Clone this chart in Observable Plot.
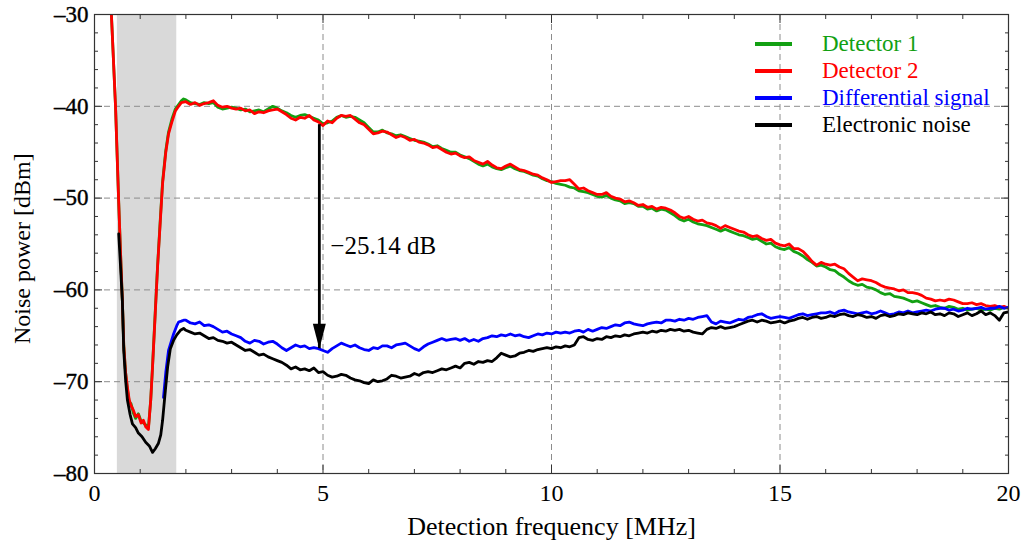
<!DOCTYPE html>
<html><head><meta charset="utf-8">
<script src="https://cdn.jsdelivr.net/npm/d3@7"></script>
<script src="https://cdn.jsdelivr.net/npm/@observablehq/plot@0.6"></script>
<style>
body{margin:0;background:#fff;}
#wrap{position:relative;width:1027px;height:547px;font-family:"Liberation Serif","DejaVu Serif",serif;}
#legend{position:absolute;left:755px;top:30px;}
.item{display:flex;align-items:center;height:27px;}
.sw{width:37px;height:4px;margin-right:30px;}
.lab{font-size:23px;line-height:23px;}
</style></head><body><div id="wrap"></div>
<script>
const seriesNames = ["Detector 1", "Detector 2", "Differential signal", "Electronic noise"];
const seriesColors = ["#12a012", "#ff0000", "#0000ff", "#000000"];

const xMajor = [0, 5, 10, 15, 20];
const xMinor = [1,2,3,4,6,7,8,9,11,12,13,14,16,17,18,19];
const yMajor = [-80, -70, -60, -50, -40, -30];
const yMinor = [-78,-76,-74,-72,-68,-66,-64,-62,-58,-56,-54,-52,-48,-46,-44,-42,-38,-36,-34,-32];
const gridXVals = [5, 10, 15];
const gridYVals = [-70, -60, -50, -40];

const bandLo = 0.5, bandHi = 1.8;

const freqMain = [
2.0,2.1,2.2,2.3,2.4,2.5,2.6,2.7,2.8,2.9,
3.0,3.1,3.2,3.3,3.4,3.5,3.6,3.7,3.8,3.9,
4.0,4.1,4.2,4.3,4.4,4.5,4.6,4.7,4.8,4.9,
5.0,5.1,5.2,5.3,5.4,5.5,5.6,5.7,5.8,5.9,
6.0,6.1,6.2,6.3,6.4,6.5,6.6,6.7,6.8,6.9,
7.0,7.1,7.2,7.3,7.4,7.5,7.6,7.7,7.8,7.9,
8.0,8.1,8.2,8.3,8.4,8.5,8.6,8.7,8.8,8.9,
9.0,9.1,9.2,9.3,9.4,9.5,9.6,9.7,9.8,9.9,
10.0,10.1,10.2,10.3,10.4,10.5,10.6,10.7,10.8,10.9,
11.0,11.1,11.2,11.3,11.4,11.5,11.6,11.7,11.8,11.9,
12.0,12.1,12.2,12.3,12.4,12.5,12.6,12.7,12.8,12.9,
13.0,13.1,13.2,13.3,13.4,13.5,13.6,13.7,13.8,13.9,
14.0,14.1,14.2,14.3,14.4,14.5,14.6,14.7,14.8,14.9,
15.0,15.1,15.2,15.3,15.4,15.5,15.6,15.7,15.8,15.9,
16.0,16.1,16.2,16.3,16.4,16.5,16.6,16.7,16.8,16.9,
17.0,17.1,17.2,17.3,17.4,17.5,17.6,17.7,17.8,17.9,
18.0,18.1,18.2,18.3,18.4,18.5,18.6,18.7,18.8,18.9,
19.0,19.1,19.2,19.3,19.4,19.5,19.6,19.7,19.8,19.9,
20.0];

// Detector 1 (green)
const det1LowFreq = [0.37,0.46,0.53,0.57,0.61,0.64,0.68,0.72,0.76,0.80,0.85,0.90,0.96,1.02,1.07,1.12,1.18,1.23,1.27,1.33,1.38,1.44,1.49,1.56,1.62,1.70,1.77,1.84,1.90,1.95];
const det1LowPow  = [-30,-40,-50.5,-56,-61.2,-66,-69,-70.8,-72.2,-72.4,-73.4,-74.0,-73.5,-74.3,-74.5,-74.7,-75.0,-72,-68.3,-62.3,-57.4,-52.3,-48.2,-44.8,-42.8,-41.3,-40.3,-39.8,-39.4,-39.2];
const det1Main = [
-39.3,-39.6,-39.7,-39.8,-39.6,-39.7,-39.6,-40.1,-40.3,-40.2,
-40.1,-40.2,-40.4,-40.3,-40.6,-40.5,-40.4,-40.6,-40.3,-40.0,
-40.2,-40.5,-40.7,-41.0,-41.2,-41.0,-40.9,-41.1,-41.3,-41.5,
-41.9,-41.8,-41.6,-41.2,-41.0,-41.2,-41.1,-41.2,-41.5,-41.8,
-42.3,-42.8,-42.8,-42.6,-42.9,-43.0,-43.2,-43.1,-43.3,-43.5,
-43.7,-43.8,-43.9,-44.1,-44.4,-44.3,-44.6,-44.8,-45.0,-45.0,
-45.3,-45.5,-45.7,-46.0,-46.3,-46.5,-46.3,-46.6,-46.8,-46.9,
-46.7,-46.5,-46.8,-47.0,-47.1,-47.3,-47.5,-47.6,-47.9,-48.1,
-48.2,-48.4,-48.5,-48.6,-48.8,-48.9,-49.2,-49.3,-49.4,-49.6,
-49.8,-49.9,-49.7,-50.0,-50.2,-50.3,-50.6,-50.5,-50.6,-50.9,
-50.9,-51.2,-51.1,-51.4,-51.2,-51.3,-51.6,-51.9,-52.3,-52.5,
-52.3,-52.6,-52.8,-52.9,-53.0,-53.2,-53.4,-53.6,-53.4,-53.6,
-53.8,-54.0,-54.1,-54.3,-54.5,-54.4,-54.7,-55.0,-54.9,-55.3,
-55.5,-55.6,-55.4,-55.8,-56.0,-56.3,-56.7,-57.0,-57.4,-57.3,
-57.5,-57.8,-57.9,-58.3,-58.6,-59.0,-59.3,-59.5,-59.4,-59.7,
-59.8,-60.0,-60.3,-60.5,-60.4,-60.7,-60.8,-60.9,-61.1,-61.3,
-61.2,-61.4,-61.6,-61.8,-61.7,-61.9,-62.0,-61.8,-61.9,-62.1,
-62.0,-62.2,-62.1,-62.0,-62.2,-62.1,-62.2,-62.0,-62.1,-61.9,
-62.0];

// Detector 2 (red)
const det2LowFreq = [0.37,0.46,0.53,0.57,0.61,0.64,0.68,0.72,0.76,0.80,0.85,0.90,0.96,1.02,1.07,1.12,1.18,1.23,1.27,1.33,1.38,1.44,1.49,1.56,1.62,1.70,1.77,1.84,1.90];
const det2LowPow  = [-30,-40,-50.5,-56,-61.2,-66,-69,-70.6,-72.0,-72.6,-73.1,-73.8,-73.6,-74.5,-74.2,-74.9,-75.2,-72,-68.4,-62.5,-57.5,-52.5,-48.4,-45.0,-43.0,-41.6,-40.5,-40.0,-39.6];
const det2Main = [
-39.5,-39.8,-39.6,-39.9,-39.7,-39.6,-39.4,-39.9,-40.1,-40.0,
-40.2,-40.3,-40.2,-40.5,-40.4,-40.8,-40.6,-40.7,-40.5,-40.4,
-40.3,-40.6,-40.9,-41.3,-41.5,-41.2,-41.3,-41.0,-41.5,-41.7,
-42.1,-41.6,-41.8,-41.3,-41.0,-41.1,-41.0,-41.4,-41.8,-42.0,
-42.5,-43.0,-42.9,-42.7,-42.8,-43.1,-43.4,-43.2,-43.4,-43.7,
-43.6,-43.9,-44.0,-44.2,-44.5,-44.4,-44.7,-45.0,-45.2,-45.1,
-45.4,-45.6,-45.5,-45.9,-46.1,-46.3,-46.0,-46.4,-46.7,-46.8,
-46.5,-46.3,-46.6,-46.9,-47.0,-47.2,-47.4,-47.5,-47.8,-48.0,
-48.3,-48.2,-48.1,-48.1,-48.0,-48.5,-49.0,-48.9,-49.2,-49.4,
-49.6,-49.6,-49.4,-49.8,-50.0,-50.1,-50.4,-50.3,-50.5,-50.8,
-50.7,-51.0,-50.9,-51.2,-51.0,-51.1,-51.3,-51.6,-52.0,-52.2,
-52.0,-52.3,-52.5,-52.4,-52.7,-52.8,-53.0,-53.3,-53.0,-53.2,
-53.4,-53.6,-53.7,-54.0,-54.2,-54.1,-54.4,-54.6,-54.5,-54.9,
-55.1,-55.2,-55.0,-55.5,-55.5,-55.8,-56.3,-56.9,-57.3,-57.0,
-57.2,-57.3,-57.2,-57.5,-57.7,-58.2,-58.6,-59.0,-58.8,-58.9,
-59.0,-59.2,-59.5,-59.7,-59.8,-59.9,-60.1,-60.0,-60.3,-60.3,
-60.4,-60.6,-60.9,-61.0,-61.2,-61.1,-61.2,-61.0,-61.1,-61.3,
-61.5,-61.5,-61.4,-61.6,-61.5,-61.7,-61.8,-61.7,-61.9,-61.8,
-62.0];

// Differential signal (blue)
const diffLowFreq = [1.51,1.56,1.62,1.68,1.73,1.80,1.84,1.90,1.95];
const diffLowPow  = [-71.7,-69.0,-66.6,-65.6,-64.8,-63.9,-63.5,-63.4,-63.3];
const diffMain = [
-63.3,-63.6,-63.7,-63.5,-63.9,-63.8,-64.0,-64.3,-64.6,-64.5,
-64.8,-65.0,-65.2,-65.6,-65.8,-65.5,-65.6,-65.9,-65.7,-65.6,
-65.9,-66.3,-66.6,-66.3,-66.0,-66.2,-66.1,-66.4,-66.3,-66.4,
-66.6,-66.8,-66.4,-66.1,-65.8,-66.0,-66.2,-66.0,-66.3,-66.5,
-66.6,-66.3,-66.4,-66.1,-66.1,-66.3,-66.0,-65.9,-65.8,-66.1,
-66.4,-66.6,-66.2,-65.9,-65.7,-65.5,-65.3,-65.5,-65.4,-65.3,
-65.5,-65.3,-65.6,-65.4,-65.6,-65.3,-65.2,-65.0,-65.1,-64.9,
-65.0,-64.8,-65.0,-64.9,-65.1,-65.2,-65.0,-64.8,-64.9,-64.7,
-64.8,-64.6,-64.7,-64.6,-64.7,-64.5,-64.4,-64.6,-64.3,-64.5,
-64.3,-64.1,-64.2,-64.0,-63.8,-63.9,-63.6,-63.5,-63.7,-63.8,
-63.9,-63.7,-63.6,-63.5,-63.6,-63.3,-63.3,-63.4,-63.2,-63.3,
-63.1,-63.2,-63.0,-62.9,-62.8,-63.5,-63.7,-63.4,-63.5,-63.6,
-63.4,-63.2,-63.3,-63.0,-62.9,-62.7,-62.6,-62.9,-63.1,-63.0,
-62.9,-63.0,-63.1,-62.9,-62.7,-62.6,-62.8,-62.7,-62.6,-62.5,
-62.5,-62.4,-62.6,-62.3,-62.2,-62.4,-62.5,-62.6,-62.5,-62.4,
-62.6,-62.5,-62.3,-62.5,-62.7,-62.6,-62.4,-62.5,-62.3,-62.5,
-62.4,-62.3,-62.2,-62.3,-62.1,-62.0,-62.0,-62.2,-62.1,-62.3,
-62.2,-62.0,-62.1,-62.0,-61.9,-62.1,-62.0,-62.0,-61.8,-62.0,
-61.9];

// Electronic noise (black)
const noiseLowFreq = [0.53,0.57,0.61,0.64,0.68,0.72,0.78,0.83,0.90,0.96,1.04,1.12,1.20,1.27,1.33,1.40,1.45,1.49,1.55,1.60,1.66,1.73,1.80,1.88,1.95];
const noiseLowPow  = [-53.9,-57.5,-61.2,-66.6,-69.8,-72.0,-73.6,-74.6,-75.0,-75.6,-76.0,-76.6,-77.0,-77.7,-77.3,-76.7,-75.8,-74.2,-71.0,-68.4,-66.4,-65.5,-64.9,-64.4,-64.2];
const noiseMain = [
-64.4,-64.6,-64.8,-64.7,-65.0,-65.3,-65.2,-65.5,-65.6,-65.8,
-65.7,-66.0,-66.3,-66.6,-66.5,-66.8,-67.1,-67.0,-67.3,-67.5,
-67.7,-67.9,-68.2,-68.6,-68.4,-68.7,-68.6,-68.8,-68.5,-69.0,
-68.9,-69.3,-69.5,-69.4,-69.2,-69.3,-69.6,-69.8,-69.9,-70.1,
-70.2,-69.8,-70.0,-69.9,-69.7,-69.3,-69.4,-69.6,-69.5,-69.4,
-69.1,-69.3,-69.0,-68.9,-69.0,-68.8,-68.6,-68.7,-68.5,-68.3,
-68.5,-68.0,-67.9,-68.1,-67.8,-67.9,-67.7,-67.8,-67.4,-66.9,
-67.1,-67.3,-67.2,-66.9,-66.8,-66.6,-66.7,-66.5,-66.4,-66.3,
-66.4,-66.2,-66.3,-66.1,-66.2,-66.0,-65.2,-65.1,-65.4,-65.5,
-65.3,-65.4,-65.1,-65.2,-65.0,-65.1,-64.9,-65.0,-64.8,-64.7,
-64.6,-64.7,-64.5,-64.6,-64.4,-64.5,-64.3,-64.4,-64.3,-64.5,
-64.4,-64.6,-64.7,-64.8,-64.3,-64.1,-64.2,-64.0,-64.2,-64.1,
-64.0,-63.8,-63.6,-63.4,-63.3,-63.5,-63.3,-63.4,-63.6,-63.5,
-63.4,-63.6,-63.4,-63.3,-63.1,-63.0,-63.2,-63.0,-62.9,-63.1,
-63.0,-62.8,-62.9,-62.7,-62.6,-62.8,-62.9,-62.7,-62.8,-63.0,
-62.9,-63.1,-62.8,-62.7,-62.9,-62.8,-62.6,-62.7,-62.5,-62.6,
-62.7,-62.5,-62.6,-62.4,-62.7,-62.6,-62.8,-62.5,-62.6,-62.9,
-62.7,-62.5,-62.8,-62.6,-62.3,-62.7,-62.5,-62.8,-63.3,-62.5,
-62.4];

// Annotation
const arrowFreq = 4.92, arrowTop = -42.0, arrowTip = -66.4;
const annotLabel = "−25.14 dB", annotFreq = 5.16, annotPow = -55.2;

function build(lowF, lowP, mainP) {
  const out = [];
  lowF.forEach((f, i) => out.push({f, p: lowP[i]}));
  const n = Math.min(freqMain.length, mainP.length);
  for (let i = 0; i < n; i++) out.push({f: freqMain[i], p: mainP[i]});
  return out;
}
const series = [
  build(det1LowFreq, det1LowPow, det1Main),
  build(det2LowFreq, det2LowPow, det2Main),
  build(diffLowFreq, diffLowPow, diffMain),
  build(noiseLowFreq, noiseLowPow, noiseMain)
];

const band = [{x1: bandLo, x2: bandHi, y1: yMajor[0], y2: yMajor[yMajor.length - 1]}];
const arrow = [{x: arrowFreq, y1: arrowTop, y2: arrowTip}];
const annot = [{x: annotFreq, y: annotPow, t: annotLabel}];
const yLabels = yMajor.map(v => ({v, t: (v < 0 ? "\u2013" : "") + Math.abs(v)}));

const headSymbol = {draw(ctx) { ctx.moveTo(0, 0); ctx.lineTo(-6.5, -25); ctx.lineTo(6.5, -25); ctx.closePath(); }};

const frameColor = "#333";
const gridStyle = {stroke: "#8c8c8c", strokeOpacity: 1, strokeDasharray: "6,4", strokeWidth: 1};

const chart = Plot.plot({
  width: 1027, height: 547,
  marginLeft: 94, marginRight: 19, marginTop: 14, marginBottom: 74,
  style: {fontFamily: '"Liberation Serif", "DejaVu Serif", serif', fontSize: "20px", color: "black", background: "white"},
  x: {domain: [0, 20]},
  y: {domain: [-80, -30]},
  marks: [
    Plot.rect(band, {x1: "x1", x2: "x2", y1: "y1", y2: "y2", fill: "#d9d9d9"}),
    Plot.gridX({ticks: gridXVals, ...gridStyle}),
    Plot.gridY({ticks: gridYVals, ...gridStyle}),
    ...series.map((d, i) => Plot.line(d, {x: "f", y: "p", stroke: seriesColors[i], strokeWidth: 2.8, clip: true})),
    Plot.ruleX(arrow, {x: "x", y1: "y1", y2: "y2", stroke: "black", strokeWidth: 2.8}),
    Plot.dot(arrow, {x: "x", y: "y2", symbol: headSymbol, fill: "black", stroke: "none", r: 1}),
    Plot.text(annot, {x: "x", y: "y", text: "t", textAnchor: "start", fontSize: 25}),
    Plot.frame({stroke: frameColor, strokeWidth: 1.2}),
    // inward ticks
    Plot.axisX({anchor: "bottom", ticks: xMajor, tickSize: 8, dy: -8, fill: "none", label: null, stroke: frameColor}),
    Plot.axisX({anchor: "bottom", ticks: xMinor, tickSize: 4, dy: -4, fill: "none", label: null, stroke: frameColor}),
    Plot.axisX({anchor: "top", ticks: xMajor, tickSize: 8, dy: 8, fill: "none", label: null, stroke: frameColor}),
    Plot.axisX({anchor: "top", ticks: xMinor, tickSize: 4, dy: 4, fill: "none", label: null, stroke: frameColor}),
    Plot.axisY({anchor: "left", ticks: yMajor, tickSize: 8, dx: 8, fill: "none", label: null, stroke: frameColor}),
    Plot.axisY({anchor: "left", ticks: yMinor, tickSize: 4, dx: 4, fill: "none", label: null, stroke: frameColor}),
    Plot.axisY({anchor: "right", ticks: yMajor, tickSize: 8, dx: -8, fill: "none", label: null, stroke: frameColor}),
    Plot.axisY({anchor: "right", ticks: yMinor, tickSize: 4, dx: -4, fill: "none", label: null, stroke: frameColor}),
    // labels
    Plot.axisX({anchor: "bottom", ticks: xMajor, tickSize: 0, tickPadding: 10, label: null, fontSize: 24}),
    Plot.text(yLabels, {y: "v", text: "t", frameAnchor: "left", textAnchor: "end", dx: -6, fontSize: 23, fill: "black", stroke: "black", strokeWidth: 0.4}),
    Plot.text(["Detection frequency [MHz]"], {frameAnchor: "bottom", dy: 61, fontSize: 26}),
    Plot.text(["Noise power [dBm]"], {frameAnchor: "left", dx: -72, dy: 100, rotate: -90, fontSize: 24})
  ]
});

const wrap = document.getElementById("wrap");
wrap.appendChild(chart);
const legend = document.createElement("div");
legend.id = "legend";
seriesNames.forEach((name, i) => {
  const item = document.createElement("div");
  item.className = "item";
  const sw = document.createElement("div");
  sw.className = "sw";
  sw.style.background = seriesColors[i];
  const lab = document.createElement("span");
  lab.className = "lab";
  lab.style.color = seriesColors[i];
  lab.textContent = name;
  item.appendChild(sw); item.appendChild(lab);
  legend.appendChild(item);
});
wrap.appendChild(legend);
</script>
</body></html>
